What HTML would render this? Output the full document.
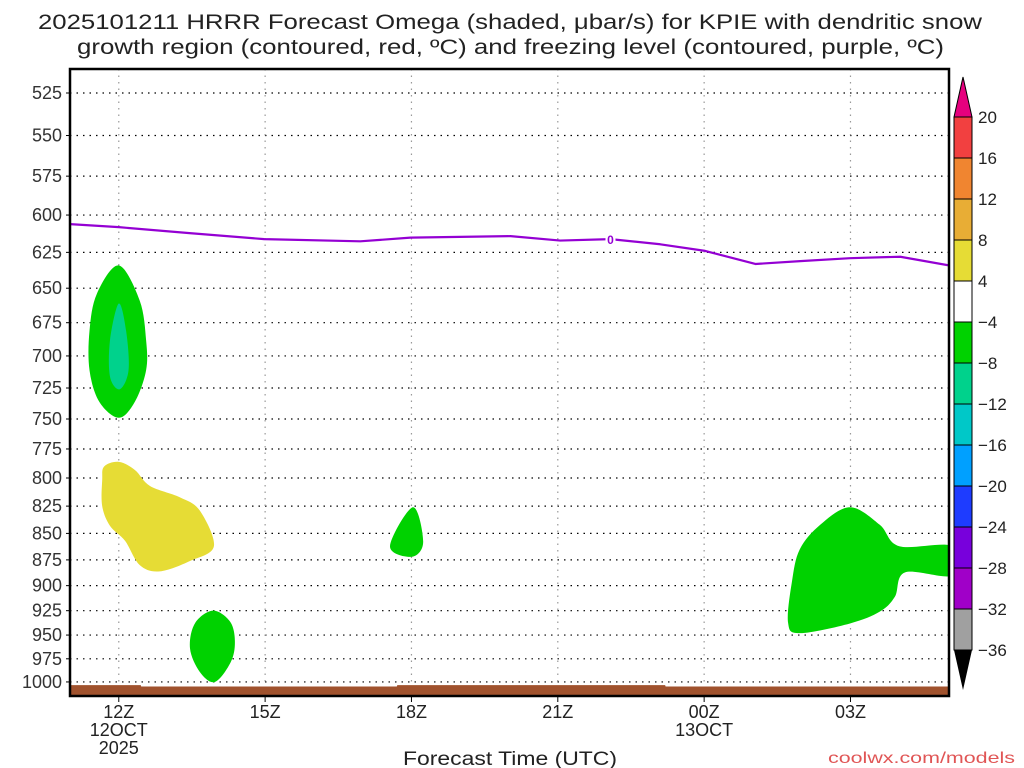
<!DOCTYPE html>
<html><head><meta charset="utf-8"><style>
html,body{margin:0;padding:0;background:#fff;}
svg{display:block;font-family:"Liberation Sans","DejaVu Sans",sans-serif;}
</style></head><body>
<svg id="chart" width="1024" height="768">
<g id="titles">
<text x="38" y="29" font-size="21" textLength="944" lengthAdjust="spacingAndGlyphs" fill="#222">2025101211 HRRR Forecast Omega (shaded, μbar/s) for KPIE with dendritic snow</text>
<text x="77" y="54" font-size="21" textLength="867" lengthAdjust="spacingAndGlyphs" fill="#222">growth region (contoured, red, ºC) and freezing level (contoured, purple, ºC)</text>
</g>
<g id="grid"></g>
<g id="fills"></g>
<g id="lines"></g>
<g id="axes"></g>
<g id="cbar"></g>
<text x="403" y="765" font-size="19" textLength="214" lengthAdjust="spacingAndGlyphs" fill="#222">Forecast Time (UTC)</text>
<text x="828" y="763" font-size="16" textLength="187" lengthAdjust="spacingAndGlyphs" fill="#e05555">coolwx.com/models</text>
</svg>
<script>
const pressureTicks=[525,550,575,600,625,650,675,700,725,750,775,800,825,850,875,900,925,950,975,1000];
const timeTicks=[12,15,18,21,24,27];
const timeLabels=[["12Z","12OCT","2025"],["15Z"],["18Z"],["21Z"],["00Z","13OCT"],["03Z"]];
const cbarLevels=[20,16,12,8,4,-4,-8,-12,-16,-20,-24,-28,-32,-36];
const cbarColors=["#f24040","#f08530","#e8ad35","#e6dc35","#ffffff","#00d200","#00d28c","#00c8c8","#00a0ff","#1e3cff","#7800dc","#a000c8","#a0a0a0"];
const green1=[[12,634],[12.43,659],[12.56,688],[12.56,711],[12.33,736],[12,749],[11.6,736],[11.4,711],[11.4,681],[11.55,654]];
const teal1=[[12,661],[12.15,681],[12.2,711],[12.02,726],[11.82,716],[11.82,688]];
const yellow1=[[11.7,790],[12,786],[12.33,793],[12.64,807],[13.25,817],[13.66,829],[13.95,862],[13.46,876],[12.84,886],[12.43,880],[12.13,857],[11.82,843],[11.66,825],[11.66,802]];
const green18=[[18.03,826],[18.24,858],[18.01,872],[17.56,862]];
const green14=[[13.93,925],[14.28,936],[14.38,956],[14.3,978],[13.97,1000],[13.66,989],[13.46,964],[13.56,938]];
const greenRight=[[26.99,826],[27.6,842],[28.0,862],[29.1,862],[29.1,890],[28.12,887],[27.91,911],[27.6,926],[26.99,938],[25.96,948],[25.72,937],[25.8,896],[25.96,865],[26.38,842]];
const freezeHours=[11,12,13.45,14.98,16.95,17.98,20.03,21.05,22.08,23.1,24.02,25.05,25.97,26.99,28.02,29.02];
const freezeP=[606,608,612,616,617.5,615,614,617,616,619.5,624,633,631,629,628,634];
const terrainHours=[11,12.45,12.46,17.7,17.71,23.2,23.21,29.1];
const terrainP=[1003.5,1003.5,1005,1005,1003.5,1003.5,1005,1005];
const L=70,R=949,T=69,B=696;
const xs=h=>70+(h-11)*48.78;
const ys=p=>93+914*Math.log(p/525);
const NS="http://www.w3.org/2000/svg";
function mk(tag,parent,attrs){const e=document.createElementNS(NS,tag);for(const k in attrs)e.setAttribute(k,attrs[k]);parent.appendChild(e);return e;}
const grid=document.getElementById('grid'),fills=document.getElementById('fills'),lines=document.getElementById('lines'),axes=document.getElementById('axes'),cbar=document.getElementById('cbar');
pressureTicks.forEach(p=>{const y=ys(p);
 const l=mk('line',grid,{x1:L,x2:R,y1:y,y2:y,stroke:'#000','stroke-width':1.2,'stroke-dasharray':'1.5 5'});
 
 
 const t=mk('text',axes,{x:L-8,y:y+6,'font-size':18,'text-anchor':'end',fill:'#333'});t.textContent=p;
 
 
 mk('line',axes,{x1:L-4,x2:L,y1:y,y2:y,stroke:'#000'});
});
timeTicks.forEach((h,i)=>{const x=xs(h);
 const l=mk('line',grid,{x1:x,x2:x,y1:T,y2:B,stroke:'#999','stroke-width':1.2,'stroke-dasharray':'1.5 5'});
 
 
 mk('line',axes,{x1:x,x2:x,y1:B,y2:B+6,stroke:'#000'});
 timeLabels[i].forEach((s,j)=>{const t=mk('text',axes,{x:x,y:B+22+j*18,'font-size':18,'text-anchor':'middle',fill:'#222'});t.textContent=s;
 
 });
});
function smoothPath(pts){const P=pts.map(([h,p])=>[xs(h),ys(p)]);const n=P.length;let d='M'+P[0][0]+','+P[0][1];
 for(let i=0;i<n;i++){const p0=P[(i-1+n)%n],p1=P[i],p2=P[(i+1)%n],p3=P[(i+2)%n];
 d+=' C'+(p1[0]+(p2[0]-p0[0])/6)+','+(p1[1]+(p2[1]-p0[1])/6)+' '+(p2[0]-(p3[0]-p1[0])/6)+','+(p2[1]-(p3[1]-p1[1])/6)+' '+p2[0]+','+p2[1];}
 return d+'Z';}
const shapes=[[green1,'#00d200','omega-green-12z'],[teal1,'#00d28c','omega-teal-12z'],[yellow1,'#e6dc35','omega-yellow-13z'],[green18,'#00d200','omega-green-18z'],[green14,'#00d200','omega-green-14z'],[greenRight,'#00d200','omega-green-03z']];
const clip=mk('clipPath',fills,{id:'pc'});mk('rect',clip,{x:L,y:T,width:R-L,height:B-T});
shapes.forEach(([pts,c,n])=>{const e=mk('path',fills,{d:smoothPath(pts),fill:c,'clip-path':'url(#pc)'});
 
 });
let td='M'+L+','+B;terrainHours.forEach((h,i)=>{td+=' L'+Math.min(xs(h),R)+','+ys(terrainP[i]);});td+=' L'+R+','+B+'Z';
const terr=mk('path',fills,{d:td,fill:'#a0522d','clip-path':'url(#pc)'});


let fd='';freezeHours.forEach((h,i)=>{fd+=(i?' L':'M')+xs(h)+','+ys(freezeP[i]);});
const fl=mk('path',lines,{d:fd,fill:'none',stroke:'#9400d3','stroke-width':2.2,'stroke-linejoin':'round','clip-path':'url(#pc)'});


const fx=xs(22.08),fy=ys(616);
mk('rect',lines,{x:fx-5,y:fy-7,width:10,height:12,fill:'#fff'});
const fz=mk('text',lines,{x:fx,y:fy+5,'font-size':12,'font-weight':'bold','text-anchor':'middle',fill:'#9400d3'});fz.textContent='0';


const fr=mk('rect',axes,{x:L,y:T,width:R-L,height:B-T,fill:'none',stroke:'#000','stroke-width':2.5});


const cx=954,cw=18,ct=117,step=(650-117)/13;
const up=mk('polygon',cbar,{points:`${cx},${ct} ${cx+cw},${ct} ${cx+cw/2},${ct-40}`,fill:'#e6007e',stroke:'#000'});


cbarColors.forEach((c,i)=>{const r=mk('rect',cbar,{x:cx,y:ct+i*step,width:cw,height:step,fill:c,stroke:'#000','stroke-width':1});
 
 });
const dn=mk('polygon',cbar,{points:`${cx},650 ${cx+cw},650 ${cx+cw/2},690`,fill:'#000'});


cbarLevels.forEach((v,i)=>{const t=mk('text',cbar,{x:978,y:ct+i*step+6,'font-size':17,fill:'#222'});t.textContent=v<0?'\u2212'+(-v):v;
 
 });
</script>
</body></html>
